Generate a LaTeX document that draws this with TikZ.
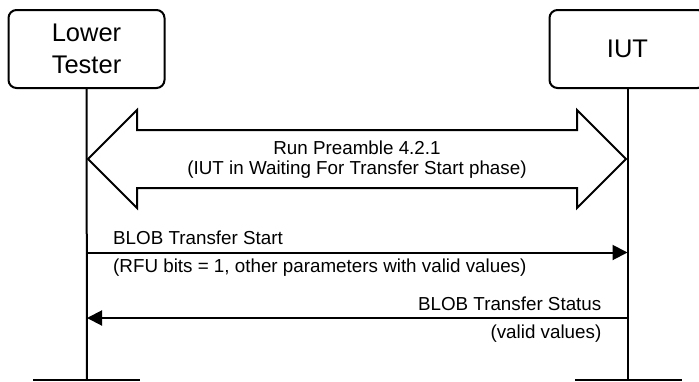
\documentclass[tikz,border=0pt]{standalone}
\usepackage{fontspec}
\setmainfont{Liberation Sans}
\usetikzlibrary{arrows.meta}
\begin{document}
\begin{tikzpicture}[x=1pt,y=-1pt,
  actor/.style={draw, line width=2pt, rounded corners=8pt, minimum width=156pt, minimum height=78pt,
    align=center, inner sep=0pt, font=\fontsize{25.5}{32}\selectfont},
  life/.style={line width=2pt},
  lbl/.style={inner sep=0pt, font=\fontsize{18.8}{20}\selectfont},
  msg/.style={line width=2pt, -{Triangle[length=15pt,width=15pt]}},
  bigarrow/.style={draw, line width=2pt, line join=miter, fill=white}]
\clip (0,0) rectangle (699,381);
\fill[white] (0,0) rectangle (699,381);
% actors
\node[actor] (lt) at (86.5,49) {Lower\\Tester};
\node[actor] (iut) at (627.5,49) {IUT};
% lifeline ends
\coordinate (ltEnd) at (87,380);
\coordinate (iutEnd) at (627.5,380);
\draw[life] (lt.south) -- (ltEnd);
\draw[life] (iut.south) -- (iutEnd);
% bottom bars (tops of lower boxes)
\coordinate (ltBarL) at (33,380);
\coordinate (ltBarR) at (140,380);
\coordinate (iutBarL) at (575,380);
\coordinate (iutBarR) at (682,380);
\draw[life] (ltBarL) -- (ltBarR);
\draw[life] (iutBarL) -- (iutBarR);
% double arrow (preamble)
\draw[bigarrow] (88,159) -- (137,110) -- (137,130) -- (577,130) -- (577,110) -- (626,159)
  -- (577,208) -- (577,188) -- (137,188) -- (137,208) -- cycle;
\node[lbl, align=center, font=\fontsize{18.8}{20}\selectfont] (pre) at (357,160)
  {Run Preamble 4.2.1\\(IUT in Waiting For Transfer Start phase)};
% messages
\coordinate (m1s) at (87,252.5);
\coordinate (m1e) at (627.5,252.5);
\draw[msg] (m1s) -- (m1e);
\node[lbl, anchor=base west] (m1a) at (113,244) {BLOB Transfer Start};
\node[lbl, anchor=base west] (m1b) at (113,272.5) {(RFU bits = 1, other parameters with valid values)};
\coordinate (m2s) at (627.5,318);
\coordinate (m2e) at (87,318);
\draw[msg] (m2s) -- (m2e);
\node[lbl, anchor=base east] (m2a) at (601.5,310) {BLOB Transfer Status};
\node[lbl, anchor=base east] (m2b) at (601.5,338.5) {(valid values)};
\end{tikzpicture}
\end{document}
